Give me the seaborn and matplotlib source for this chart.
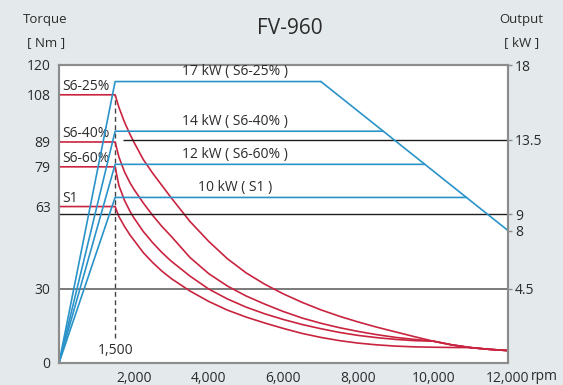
import numpy as np
import pandas as pd
import matplotlib
matplotlib.use("Agg")
import matplotlib.pyplot as plt
import seaborn as sns

# ---------------- data ----------------
# torque curves [Nm] vs speed [rpm]
rpm_pts = [0, 1500, 1600, 1750, 1900, 2000, 2250, 2500, 2750, 3000, 3500, 4000, 4500, 5000,
           5500, 6000, 6500, 7000, 7500, 8000, 8500, 9000, 9500, 10000, 10500, 11000, 11500, 12000]
nm_s625 = [108, 108, 103, 97, 92, 89, 82, 76.5, 71.5, 66.5, 57, 49, 42, 36.3,
           31.7, 27.8, 24.4, 21.4, 18.8, 16.5, 14.4, 12.5, 10.6, 8.8, 7.3, 6.2, 5.5, 5.0]
nm_s640 = [89, 89, 83, 77, 72.5, 70, 64.5, 59.5, 55, 51, 42.5, 36, 31, 27,
           23.7, 20.7, 18.1, 16, 14.2, 12.7, 11.4, 10.3, 9.5, 8.8, 7.3, 6.2, 5.5, 5.0]
nm_s660 = [79, 79, 71.5, 65.5, 61, 58.5, 53, 48.5, 44.5, 41, 35, 29.8, 25.8, 22.5,
           19.8, 17.5, 15.5, 13.8, 12.3, 11.1, 10.2, 9.5, 9.0, 8.8, 7.3, 6.2, 5.5, 5.0]
nm_s1 = [63, 63, 59, 55, 51.5, 49.5, 44.5, 40.5, 37, 34, 29, 24.8, 21.3, 18.5,
         16.1, 13.9, 11.9, 10.3, 9.0, 8.0, 7.3, 6.8, 6.5, 6.35, 6.25, 6.2, 5.5, 5.0]

duty = ["S6-25%", "S6-40%", "S6-60%", "S1"]
rated_nm = [108, 89, 79, 63]
power_kw = [17, 14, 12, 10]
base_rpm = 1500

# maximum output envelope [kW]
env_rpm = [7000, 12000]
env_kw = [17, 8]

torque_ticks = [0, 30, 63, 79, 89, 108, 120]
kw_ticks = [4.5, 8, 9, 13.5, 18]
kw_tick_labels = ["4.5", "8", "9", "13.5", "18"]
rpm_ticks = [2000, 4000, 6000, 8000, 10000, 12000]
rpm_tick_labels = ["2,000", "4,000", "6,000", "8,000", "10,000", "12,000"]

# ---------------- style ----------------
sns.set_style("white")
plt.rcParams['font.family'] = ['Open Sans', 'DejaVu Sans']

BG = "#e4eaec"
RED = "#c9243f"
BLUE = "#2a93c9"
TXT = "#2b2b2b"
SPINE = "#8c8c8c"

fig = plt.figure(figsize=(5.63, 3.85), dpi=100, facecolor=BG)
W, H = 563, 385
ax = fig.add_axes([59 / W, 1 - 363 / H, (508 - 59) / W, (363 - 65) / H])
ax.set_facecolor("white")
ax2 = ax.twinx()

# torque curves
curves = [nm_s625, nm_s640, nm_s660, nm_s1]
for t, lab, tq in zip(curves, duty, rated_nm):
    df = pd.DataFrame({"rpm": rpm_pts, "nm": t})
    sns.lineplot(data=df, x="rpm", y="nm", ax=ax, color=RED, lw=1.2,
                 sort=False, estimator=None, legend=False)
    ax.annotate(lab, xy=(80, tq), xytext=(0, 0.5), textcoords="offset points",
                ha="left", va="bottom", fontsize=10, color=TXT)

# reference lines
ax.axhline(30, color="#7a7a7a", lw=1.4, zorder=1)
ax.vlines(base_rpm, 10, max(rated_nm), colors="#444444", lw=1.0,
          linestyles=(0, (3.5, 2.5)), zorder=1)
ax.text(base_rpm, 5.2, "1,500", ha="center", va="center", fontsize=10, color=TXT)

ax2.axhline(9, color="#1e1e1e", lw=1.0, zorder=1)
ax2.hlines(13.5, 1710, 12000, colors="#1e1e1e", lw=1.0, zorder=1)

# output lines
for p, lab in zip(power_kw, duty):
    n_end = float(np.interp(p, env_kw[::-1], env_rpm[::-1]))
    df = pd.DataFrame({"rpm": [0, base_rpm, n_end], "kw": [0, p, p]})
    sns.lineplot(data=df, x="rpm", y="kw", ax=ax2, color=BLUE, lw=1.2,
                 sort=False, estimator=None, legend=False)
    ax2.annotate(f"{p} kW ( {lab} )", xy=(4700, p), xytext=(0, 1.5),
                 textcoords="offset points", ha="center", va="bottom",
                 fontsize=10, color=TXT)
sns.lineplot(x=env_rpm, y=env_kw, ax=ax2, color=BLUE, lw=1.2,
             sort=False, estimator=None, legend=False)

# axes
ax.set_xlim(0, 12000)
ax.set_ylim(0, 120)
ax2.set_ylim(0, 18)
ax.set_xticks(rpm_ticks)
ax.set_xticklabels(rpm_tick_labels)
ax.set_yticks(torque_ticks)
ax.set_yticklabels([str(v) for v in torque_ticks])
ax2.set_yticks(kw_ticks)
ax2.set_yticklabels(kw_tick_labels)
ax.set_xlabel("")
ax.set_ylabel("")
ax2.set_ylabel("")
ax.tick_params(axis="x", length=0, pad=6, labelsize=10, labelcolor=TXT)
ax.tick_params(axis="y", length=0, pad=6, labelsize=10, labelcolor=TXT)
ax2.tick_params(axis="y", length=3, width=1, color=SPINE, pad=2, labelsize=10, labelcolor=TXT)
for a in (ax, ax2):
    for s in a.spines.values():
        s.set_color(SPINE)
        s.set_linewidth(1.5)

ax.annotate("rpm", xy=(1, 0), xycoords="axes fraction", xytext=(16.5, -9.5),
            textcoords="offset points", ha="left", va="center", fontsize=10, color=TXT)

# titles
fig.text(290 / W, 1 - 28 / H, "FV-960", ha="center", va="center", fontsize=15, color=TXT)
fig.text(45 / W, 1 - 20 / H, "Torque", ha="center", va="center", fontsize=9.5, color=TXT)
fig.text(46 / W, 1 - 43 / H, "[ Nm ]", ha="center", va="center", fontsize=9.5, color=TXT)
fig.text(521 / W, 1 - 20 / H, "Output", ha="center", va="center", fontsize=9.5, color=TXT)
fig.text(522 / W, 1 - 43 / H, "[ kW ]", ha="center", va="center", fontsize=9.5, color=TXT)

fig.savefig("out.png", dpi=100, facecolor=BG)
